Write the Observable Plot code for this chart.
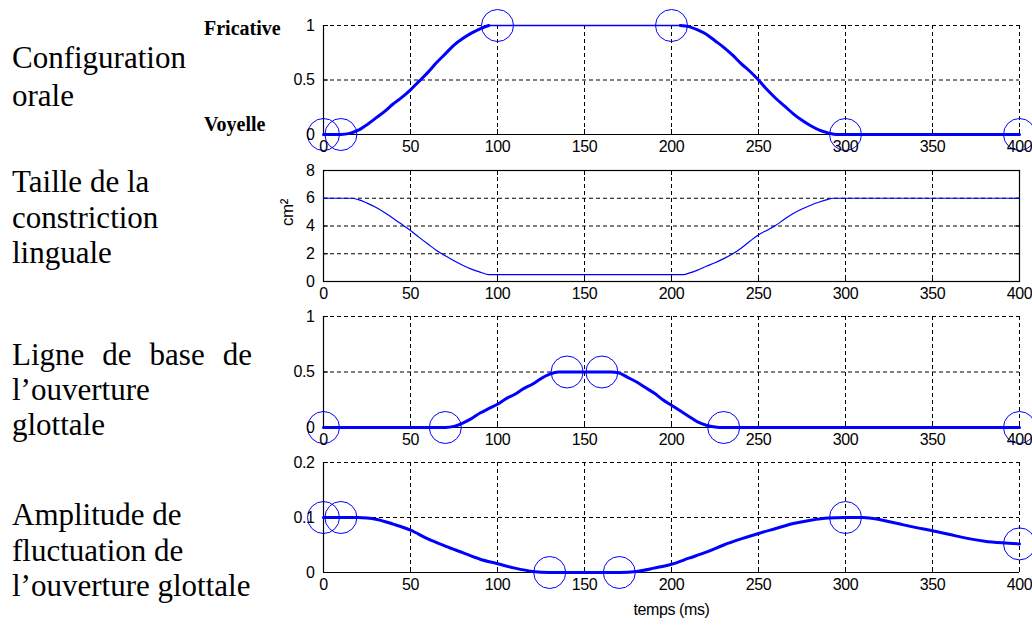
<!DOCTYPE html>
<html><head><meta charset="utf-8">
<script src="https://cdn.jsdelivr.net/npm/d3@7"></script>
<script src="https://cdn.jsdelivr.net/npm/@observablehq/plot@0.6"></script>
<style>
body{margin:0;background:#fff;}
#wrap{position:relative;width:1032px;height:625px;overflow:hidden;background:#fff;}
.lab{position:absolute;left:12px;font-family:"Liberation Serif","Times New Roman",serif;font-size:31px;line-height:31px;color:#000;white-space:nowrap;}
.just{display:flex;justify-content:space-between;width:240px;}
.small{position:absolute;left:204px;font-family:"Liberation Serif","Times New Roman",serif;font-weight:bold;font-size:20px;line-height:20px;color:#000;white-space:nowrap;}
.panel{position:absolute;left:0;}
</style></head>
<body><div id="wrap"></div>
<script>
// ---- data ----
const xTicks = [0, 50, 100, 150, 200, 250, 300, 350, 400];

// Configuration orale (0 = Voyelle, 1 = Fricative)
const oraleRiseT = [0, 10, 15, 20, 25, 30, 35, 40, 45, 50, 55, 60, 65, 70, 75, 80, 85, 90, 95];
const oraleRiseV = [0, 0, 0.01, 0.04, 0.09, 0.15, 0.21, 0.28, 0.34, 0.41, 0.49, 0.57, 0.66, 0.74, 0.82, 0.88, 0.93, 0.97, 1];
const oralePlateauT = [95, 205];
const oralePlateauV = [1, 1];
const oraleFallT = [205, 210, 215, 220, 225, 230, 235, 240, 245, 250, 255, 260, 265, 270, 275, 280, 285, 290, 295, 300, 400];
const oraleFallV = [1, 0.99, 0.96, 0.92, 0.86, 0.8, 0.73, 0.65, 0.58, 0.5, 0.41, 0.33, 0.26, 0.19, 0.13, 0.08, 0.04, 0.015, 0, 0, 0];
const oraleTargetT = [0, 10, 100, 200, 300, 400];
const oraleTargetV = [0, 0, 1, 1, 0, 0];
const oraleYTicks = [0, 0.5, 1];

// Taille de la constriction linguale (cm2)
const constrT = [0, 16, 20, 25, 30, 35, 40, 45, 50, 55, 60, 65, 70, 75, 80, 85, 90, 95,
  207, 210, 215, 220, 225, 230, 235, 240, 245, 250, 255, 260, 265, 270, 275, 280, 285, 290, 293, 400];
const constrV = [6, 6, 5.9, 5.65, 5.35, 4.98, 4.55, 4.12, 3.68, 3.18, 2.7, 2.24, 1.85, 1.5, 1.17, 0.89, 0.68, 0.5,
  0.5, 0.6, 0.82, 1.1, 1.35, 1.65, 1.98, 2.4, 2.9, 3.37, 3.7, 4.05, 4.5, 4.9, 5.22, 5.5, 5.73, 5.92, 6, 6];
const constrYTicks = [0, 2, 4, 6, 8];

// Ligne de base de l'ouverture glottale
const baseT = [0, 70, 75, 80, 85, 90, 95, 100, 105, 110, 115, 120, 125, 130, 135, 165,
  170, 175, 180, 185, 190, 195, 200, 205, 210, 215, 220, 225, 230, 400];
const baseV = [0, 0, 0.01, 0.04, 0.08, 0.13, 0.17, 0.21, 0.26, 0.3, 0.35, 0.39, 0.44, 0.48, 0.5, 0.5,
  0.49, 0.45, 0.41, 0.36, 0.31, 0.25, 0.2, 0.15, 0.1, 0.05, 0.02, 0.005, 0, 0];
const baseTargetT = [0, 70, 140, 160, 230, 400];
const baseTargetV = [0, 0, 0.5, 0.5, 0, 0];
const baseYTicks = [0, 0.5, 1];

// Amplitude de fluctuation de l'ouverture glottale
const amplT = [0, 10, 20, 25, 30, 40, 50, 60, 70, 80, 90, 100, 110, 120, 130, 170,
  180, 190, 200, 210, 220, 230, 240, 250, 260, 270, 280, 290, 300, 310, 320, 330, 340, 350, 360, 370, 380, 390, 400];
const amplV = [0.1, 0.1, 0.1, 0.099, 0.097, 0.088, 0.077, 0.061, 0.048, 0.036, 0.024, 0.016, 0.008, 0.002, 0, 0,
  0.002, 0.008, 0.015, 0.026, 0.037, 0.05, 0.061, 0.071, 0.08, 0.089, 0.095, 0.099, 0.1, 0.1, 0.096, 0.089, 0.082, 0.076, 0.069, 0.062, 0.057, 0.054, 0.052];
const amplTargetT = [0, 10, 130, 170, 300, 400];
const amplTargetV = [0.1, 0.1, 0, 0, 0.1, 0.052];
const amplYTicks = [0, 0.1, 0.2];

const leftLabels = [
  ["Configuration", 68], ["orale", 106],
  ["Taille de la", 192], ["constriction", 228], ["linguale", 263],
  ["Ligne de base de", 365, true], ["l\u2019ouverture", 400], ["glottale", 435],
  ["Amplitude de", 525], ["fluctuation de", 561], ["l\u2019ouverture glottale", 596]
];
const stateLabels = [["Fricative", 35], ["Voyelle", 131]];

// ---- helpers ----
const BLUE = "#0000ff";
const W = 1032, ML = 323, MR = 13;
const zip = (t, v) => t.map((d, i) => ({t: d, v: v[i]}));
const fmt = d => String(d);

function panel({top, mt, fh, mb, yTicks, series, targets, boxed, extra = []}) {
  const h = mt + fh + mb;
  const fw = W - ML - MR;
  const marks = [
    Plot.ruleX(xTicks.filter(d => d > 0), {stroke: "#000", strokeWidth: 1, strokeDasharray: "4,3"}),
    Plot.ruleY(yTicks.filter(d => d > yTicks[0]), {stroke: "#000", strokeWidth: 1, strokeDasharray: "4,3"}),
    Plot.ruleX(xTicks, {stroke: "#000", insetTop: fh - 5}),
    Plot.ruleY(yTicks, {stroke: "#000", insetRight: fw - 5}),
  ];
  if (boxed) {
    marks.push(Plot.ruleX(xTicks, {stroke: "#000", insetBottom: fh - 5}));
    marks.push(Plot.ruleY(yTicks, {stroke: "#000", insetLeft: fw - 5}));
    marks.push(Plot.frame({stroke: "#000", strokeWidth: 1.2}));
  } else {
    marks.push(Plot.ruleX([0], {stroke: "#000", strokeWidth: 1.2}));
    marks.push(Plot.ruleY([yTicks[0]], {stroke: "#000", strokeWidth: 1.2}));
  }
  for (const s of series) {
    marks.push(Plot.line(s.data, {x: "t", y: "v", stroke: BLUE, strokeWidth: s.w, curve: "monotone-x"}));
  }
  if (targets) marks.push(Plot.dot(targets, {x: "t", y: "v", r: 16, stroke: BLUE, fill: "none", strokeWidth: 1}));
  marks.push(Plot.axisX({ticks: xTicks, tickSize: 0, tickPadding: 6, tickFormat: fmt}));
  marks.push(Plot.axisY({ticks: yTicks, tickSize: 0, tickPadding: 9, tickFormat: fmt}));
  marks.push(...extra);
  const svg = Plot.plot({
    width: W, height: h,
    marginLeft: ML, marginRight: MR, marginTop: mt, marginBottom: mb,
    x: {domain: [0, 400], label: null},
    y: {domain: [yTicks[0], yTicks[yTicks.length - 1]], label: null},
    style: {background: "none", overflow: "visible", fontFamily: "'Liberation Sans', Arial, sans-serif", fontSize: "16px", letterSpacing: "-0.4px", color: "#000"},
    marks
  });
  const div = document.createElement("div");
  div.className = "panel";
  div.style.top = top + "px";
  div.appendChild(svg);
  return div;
}

const wrap = document.getElementById("wrap");

wrap.appendChild(panel({top: 0, mt: 25, fh: 109, mb: 30, yTicks: oraleYTicks,
  series: [{data: zip(oraleRiseT, oraleRiseV), w: 3}, {data: zip(oralePlateauT, oralePlateauV), w: 1.3}, {data: zip(oraleFallT, oraleFallV), w: 3}],
  targets: zip(oraleTargetT, oraleTargetV)}));

wrap.appendChild(panel({top: 140, mt: 30, fh: 111, mb: 30, yTicks: constrYTicks, boxed: true,
  series: [{data: zip(constrT, constrV), w: 1.2}],
  extra: [Plot.text(["cm\u00b2"], {frameAnchor: "left", dx: -36, rotate: -90, fontSize: 17})]}));

wrap.appendChild(panel({top: 286, mt: 30, fh: 111, mb: 30, yTicks: baseYTicks,
  series: [{data: zip(baseT, baseV), w: 3}],
  targets: zip(baseTargetT, baseTargetV)}));

wrap.appendChild(panel({top: 432, mt: 30, fh: 110, mb: 53, yTicks: amplYTicks,
  series: [{data: zip(amplT, amplV), w: 3}],
  targets: zip(amplTargetT, amplTargetV),
  extra: [Plot.text(["temps (ms)"], {frameAnchor: "bottom", dy: 42, fontSize: 16})]}));

for (const [txt, base, just] of leftLabels) {
  const d = document.createElement("div");
  d.className = "lab" + (just ? " just" : "");
  d.style.top = (base - 26) + "px";
  if (just) {
    for (const w of txt.split(" ")) { const s = document.createElement("span"); s.textContent = w; d.appendChild(s); }
  } else d.textContent = txt;
  wrap.appendChild(d);
}
for (const [txt, base] of stateLabels) {
  const d = document.createElement("div");
  d.className = "small";
  d.style.top = (base - 17) + "px";
  d.textContent = txt;
  wrap.appendChild(d);
}
</script></body></html>
